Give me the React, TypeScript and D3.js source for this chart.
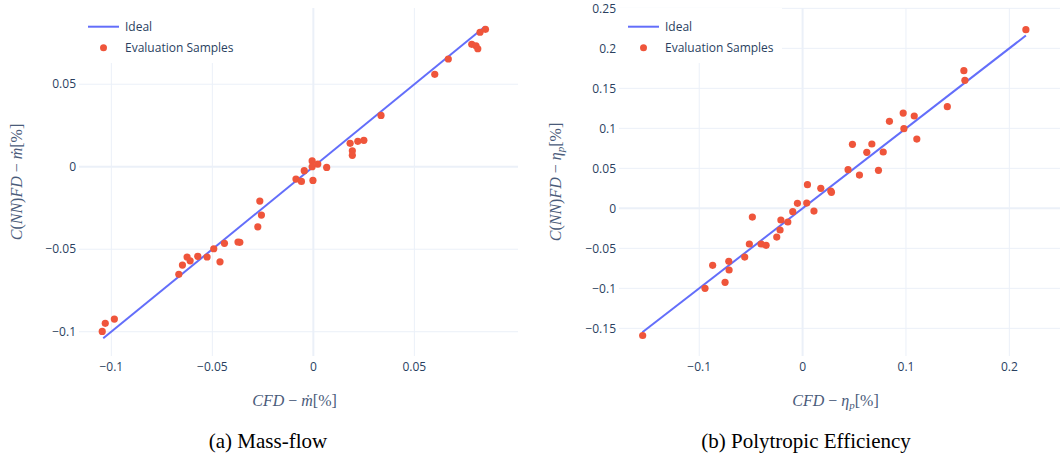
import React from "react";
import * as d3 from "d3";

// (a) mass-flow: CFD vs C(NN)FD, in %
const massCfd = [
  0.0825, 0.0852, 0.0784, 0.0805, 0.0814, 0.0668, 0.0601, 0.0335, 0.0182, 0.0193,
  0.0193, 0.022, 0.025, -0.0006, -0.0006, 0.0022, -0.0045, 0.0066, -0.0086, -0.0059,
  -0.0002, -0.0265, -0.0257, -0.0275, -0.0373, -0.0364, -0.044, -0.0493, -0.0462, -0.0526,
  -0.0572, -0.0625, -0.061, -0.0648, -0.0666, -0.0985, -0.103, -0.1045,
];
const massNn = [
  0.0815, 0.0833, 0.0742, 0.0733, 0.0715, 0.0653, 0.056, 0.0311, 0.0142, 0.0097,
  0.0069, 0.0154, 0.016, 0.0035, 0.0, 0.0016, -0.0024, -0.0004, -0.0075, -0.0089,
  -0.0083, -0.0208, -0.0293, -0.0364, -0.0456, -0.0458, -0.0464, -0.0497, -0.0576, -0.0547,
  -0.0543, -0.0547, -0.057, -0.0596, -0.0652, -0.0923, -0.0949, -0.0998,
];
const massIdeal = [-0.104, 0.085];

// (b) polytropic efficiency
const effCfd = [
  0.216, 0.156, 0.157, 0.14, 0.0973, 0.108, 0.098, 0.1105, 0.084, 0.0482,
  0.067, 0.0621, 0.078, 0.044, 0.055, 0.0734, 0.0047, 0.0176, 0.0273, 0.0279,
  -0.005, 0.004, 0.011, -0.0095, -0.0143, -0.021, -0.0218, -0.025, -0.0486, -0.0515,
  -0.0402, -0.0353, -0.056, -0.087, -0.0714, -0.0711, -0.075, -0.0944, -0.1547,
];
const effNn = [
  0.2233, 0.172, 0.16, 0.127, 0.119, 0.1154, 0.0995, 0.0866, 0.1087, 0.08,
  0.0804, 0.07, 0.0704, 0.0483, 0.0416, 0.0475, 0.0295, 0.025, 0.0216, 0.02,
  0.0062, 0.0066, -0.0034, -0.0042, -0.0171, -0.0146, -0.0271, -0.0359, -0.0109, -0.0446,
  -0.0446, -0.0463, -0.0609, -0.0713, -0.0663, -0.0771, -0.0925, -0.1, -0.159,
];
const effIdeal = [-0.155, 0.216];

const massXTicks = [-0.1, -0.05, 0, 0.05];
const massYTicks = [-0.1, -0.05, 0, 0.05];
const effXTicks = [-0.1, 0, 0.1, 0.2];
const effYTicks = [-0.15, -0.1, -0.05, 0, 0.05, 0.1, 0.15, 0.2, 0.25];

const legendLabels = ["Ideal", "Evaluation Samples"];

const GRID = "#EBF0F8";
const TICK = "#2a3f5f";
const LINE = "#636EFA";
const DOT = "#EF553B";
const MATH = "#4a5b7a";

const fmt = (v: number) => (v < 0 ? "\u2212" + String(-v) : String(v));

type PanelProps = {
  left: number;
  right: number;
  xDomain: [number, number];
  yDomain: [number, number];
  xTicks: number[];
  yTicks: number[];
  xs: number[];
  ys: number[];
  ideal: number[];
  xTitle: React.ReactNode;
  yTitle: React.ReactNode;
  yTitleX: number;
  caption: string;
  captionX: number;
};

const Panel = (p: PanelProps) => {
  const top = 8, bottom = 356;
  const x = d3.scaleLinear().domain(p.xDomain).range([p.left, p.right]);
  const y = d3.scaleLinear().domain(p.yDomain).range([bottom, top]);
  const line = d3.line<number>().x((d) => x(d)).y((d) => y(d));
  const lx = p.left + 9;
  const cx = (p.left + p.right) / 2 - 4;

  return (
    <g>
      {p.xTicks.map((t) => (
        <line key={"gx" + t} x1={x(t)} x2={x(t)} y1={top} y2={bottom}
          stroke={GRID} strokeWidth={t === 0 ? 2 : 1} />
      ))}
      {p.yTicks.map((t) => (
        <line key={"gy" + t} x1={p.left} x2={p.right} y1={y(t)} y2={y(t)}
          stroke={GRID} strokeWidth={t === 0 ? 2 : 1} />
      ))}
      {p.xTicks.map((t) => (
        <text key={"tx" + t} x={x(t)} y={bottom + 15} textAnchor="middle"
          fontSize={12} fill={TICK}>{fmt(t)}</text>
      ))}
      {p.yTicks.map((t) => (
        <text key={"ty" + t} x={p.left - 3} y={y(t)} dy="0.35em" textAnchor="end"
          fontSize={12} fill={TICK}>{fmt(t)}</text>
      ))}

      {/* legend */}
      <rect x={p.left} y={top} width={163} height={55} fill="#fff" />
      <line x1={lx} x2={lx + 31} y1={26.7} y2={26.7} stroke={LINE} strokeWidth={2} />
      <text x={lx + 37} y={26.7} dy="0.35em" fontSize={12} fill={TICK}>{legendLabels[0]}</text>
      <circle cx={lx + 15.5} cy={47.7} r={3.5} fill={DOT} />
      <text x={lx + 37} y={47.7} dy="0.35em" fontSize={12} fill={TICK}>{legendLabels[1]}</text>

      <path d={line(p.ideal) || ""} fill="none" stroke={LINE} strokeWidth={2} />
      {p.xs.map((v, i) => (
        <circle key={i} cx={x(v)} cy={y(p.ys[i])} r={3.6} fill={DOT} />
      ))}

      <text x={cx} y={400} dy="0.35em" textAnchor="middle" fontSize={16}
        fontFamily="'Liberation Serif', serif" fill={MATH}>{p.xTitle}</text>
      <text transform={`translate(${p.yTitleX},${(top + bottom) / 2}) rotate(-90)`}
        dy="0.35em" textAnchor="middle" fontSize={16}
        fontFamily="'Liberation Serif', serif" fill={MATH}>{p.yTitle}</text>

      <text x={p.captionX} y={448} textAnchor="middle" fontSize={21}
        fontFamily="'Liberation Serif', 'Times New Roman', serif" fill="#000">{p.caption}</text>
    </g>
  );
};

const I = ({ children }: { children: React.ReactNode }) => (
  <tspan fontStyle="italic">{children}</tspan>
);

const mdot = <I>{"m\u0307"}</I>;
const etaP = (
  <>
    <I>{"\u03b7"}</I>
    <tspan fontStyle="italic" fontSize={11} dy={3}>p</tspan>
    <tspan dy={-3}>[%]</tspan>
  </>
);

export default function App() {
  return (
    <svg width={1060} height={462} style={{ position: "absolute", left: 0, top: 0 }}
      fontFamily="'Open Sans', sans-serif">
      <rect width={1060} height={462} fill="#fff" />
      <Panel
        left={79} right={518}
        xDomain={[-0.116, 0.1013]} yDomain={[-0.1147, 0.0962]}
        xTicks={massXTicks} yTicks={massYTicks}
        xs={massCfd} ys={massNn} ideal={massIdeal}
        xTitle={<><I>CFD</I>{" \u2212 "}{mdot}[%]</>}
        yTitle={<><I>C</I>(<I>NN</I>)<I>FD</I>{" \u2212 "}{mdot}[%]</>}
        yTitleX={16}
        caption="(a) Mass-flow" captionX={268}
      />
      <Panel
        left={619} right={1060}
        xDomain={[-0.1776, 0.249]} yDomain={[-0.1846, 0.2504]}
        xTicks={effXTicks} yTicks={effYTicks}
        xs={effCfd} ys={effNn} ideal={effIdeal}
        xTitle={<><I>CFD</I>{" \u2212 "}{etaP}</>}
        yTitle={<><I>C</I>(<I>NN</I>)<I>FD</I>{" \u2212 "}{etaP}</>}
        yTitleX={555}
        caption="(b) Polytropic Efficiency" captionX={806}
      />
    </svg>
  );
}
